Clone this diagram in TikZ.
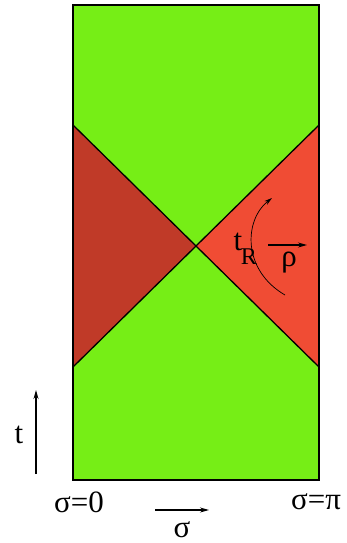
\documentclass[tikz,border=0pt]{standalone}
\usepackage{fontspec}
\setmainfont{Liberation Serif}
\usetikzlibrary{arrows.meta}
\definecolor{bggreen}{RGB}{118,238,22}
\definecolor{darkred}{RGB}{192,58,40}
\definecolor{litered}{RGB}{240,76,52}
\tikzset{
  lbl/.style={font=\fontsize{31}{33}\selectfont, inner sep=0pt},
  sublbl/.style={font=\fontsize{24}{26}\selectfont, inner sep=0pt},
  arr/.style={-{Stealth[length=9pt,width=5pt]}, line width=1.1pt},
  thinarr/.style={-{Stealth[length=8pt,width=4.5pt]}, line width=0.7pt},
  edge/.style={line width=1.3pt}
}
\begin{document}
\begin{tikzpicture}[x=1pt,y=-1pt]
\useasboundingbox (0,0) rectangle (347,543);
\coordinate (tl) at (73,5);
\coordinate (tr) at (319,5);
\coordinate (bl) at (73,480);
\coordinate (br) at (319,480);
\coordinate (lu) at (73,125);
\coordinate (ld) at (73,367);
\coordinate (ru) at (319,125);
\coordinate (rd) at (319,367);
\coordinate (c) at (196,246);
\fill[bggreen] (tl) rectangle (br);
\fill[darkred] (lu) -- (c) -- (ld) -- cycle;
\fill[litered] (ru) -- (c) -- (rd) -- cycle;
\draw[edge] (lu) -- (rd);
\draw[edge] (ld) -- (ru);
\draw[line width=2.2pt] (tl) rectangle (br);
% labels inside
\node[lbl] (tR) at (238,242) {t};
\node[sublbl] (R) at (249,257) {R};
\coordinate (ra) at (268,245);
\coordinate (rb) at (307,245);
\draw[arr] (ra) -- (rb);
\node[lbl] (rho) at (289,263) {ρ};
\coordinate (ca) at (285,295);
\coordinate (cb) at (272,198);
\draw[thinarr] (ca) .. controls (242,270) and (244,220) .. (cb);
% axes
\coordinate (ta) at (36,474);
\coordinate (tb) at (36,390);
\draw[arr] (ta) -- (tb);
\node[lbl] (t) at (19,435) {t};
\node[lbl] (s0) at (79,502) {σ=0};
\node[lbl] (spi) at (316,502) {σ=π};
\coordinate (sa) at (155,510);
\coordinate (sb) at (209,510);
\draw[arr] (sa) -- (sb);
\node[lbl] (s) at (182,530) {σ};
\end{tikzpicture}
\end{document}
